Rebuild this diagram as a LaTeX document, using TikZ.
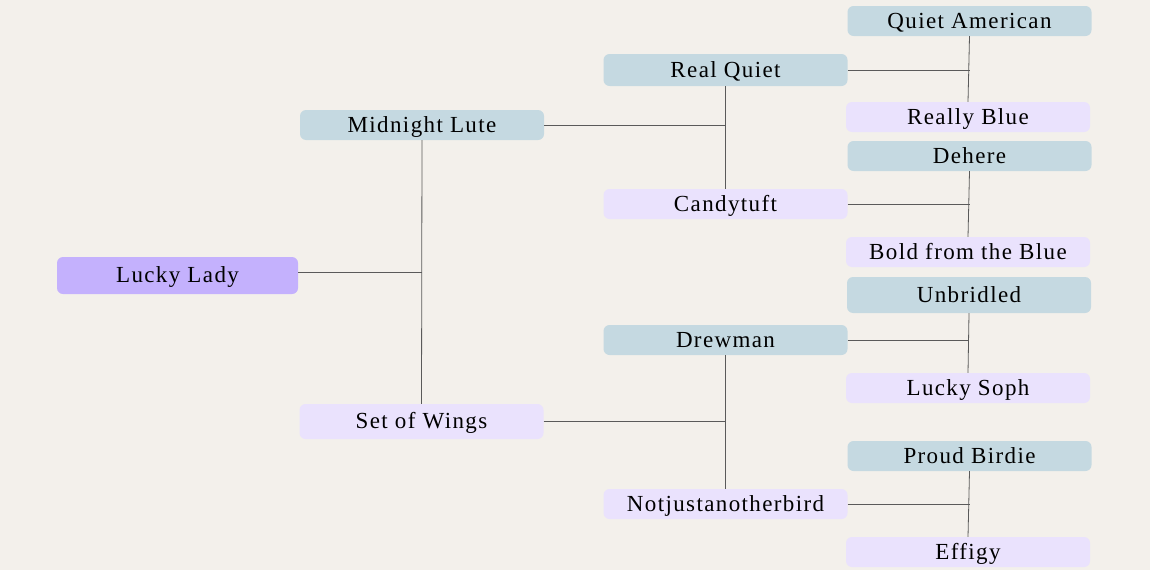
\documentclass[tikz,border=0pt]{standalone}
\usepackage{fontspec}
\setmainfont[LetterSpace=6]{Liberation Serif}
\definecolor{paper}{HTML}{F3F0EB}
\definecolor{sire}{HTML}{C5D9E1}
\definecolor{dam}{HTML}{EAE2FD}
\definecolor{root}{HTML}{C4B1FD}
\definecolor{link}{HTML}{5A5A5A}
\tikzset{
  horse/.style={rounded corners=6pt, minimum width=244pt, minimum height=30pt,
    inner sep=0pt, text=black, font=\fontsize{23}{25}\selectfont,
    text height=16pt, text depth=2pt},
  sirebox/.style={horse, fill=sire},
  dambox/.style={horse, fill=dam},
  rootbox/.style={horse, fill=root, minimum width=241pt, minimum height=37pt},
  tie/.style={draw=link, line width=0.8pt}
}
\begin{document}
\begin{tikzpicture}[x=1pt,y=-1pt]
  \fill[paper] (0,0) rectangle (1150,570);
  \useasboundingbox (0,0) rectangle (1150,570);
  % generation 1
  \node[rootbox] (lady) at (177.5,275.5) {Lucky Lady};
  % generation 2
  \node[sirebox] (lute) at (422,125) {Midnight Lute};
  \node[dambox, minimum height=35pt] (wings) at (421.5,421.5) {Set of Wings};
  % generation 3
  \node[sirebox, minimum height=32pt] (realq) at (725.5,70) {Real Quiet};
  \node[dambox] (candy) at (725.5,204) {Candytuft};
  \node[sirebox] (drew) at (725.5,340) {Drewman};
  \node[dambox] (notjust) at (725.5,504) {Notjustanotherbird};
  % generation 4
  \node[sirebox] (qamer) at (969.5,21) {Quiet American};
  \node[dambox] (rblue) at (968,117) {Really Blue};
  \node[sirebox] (dehere) at (969.5,156) {Dehere};
  \node[dambox] (bold) at (968,252) {Bold from the Blue};
  \node[sirebox, minimum height=36pt] (unbr) at (969,295) {Unbridled};
  \node[dambox] (soph) at (968,388) {Lucky Soph};
  \node[sirebox] (proud) at (969.5,456) {Proud Birdie};
  \node[dambox] (effigy) at (968,552) {Effigy};
  % connectors
  \draw[tie] (lute.south) -- (wings.north);
  \draw[tie] ([yshift=3pt]lady.east) -- ([yshift=3pt]lady.east -| lute.south);
  \draw[tie] (realq.south) -- (candy.north);
  \draw[tie] (lute.east) -- (lute.east -| realq.south);
  \draw[tie] (drew.south) -- (notjust.north);
  \draw[tie] (wings.east) -- (wings.east -| drew.south);
  \draw[tie] (qamer.south) -- (rblue.north);
  \draw[tie] (realq.east) -- (realq.east -| qamer.south);
  \draw[tie] (dehere.south) -- (bold.north);
  \draw[tie] (candy.east) -- (candy.east -| dehere.south);
  \draw[tie] (unbr.south) -- (soph.north);
  \draw[tie] (drew.east) -- (drew.east -| unbr.south);
  \draw[tie] (proud.south) -- (effigy.north);
  \draw[tie] (notjust.east) -- (notjust.east -| proud.south);
\end{tikzpicture}
\end{document}
